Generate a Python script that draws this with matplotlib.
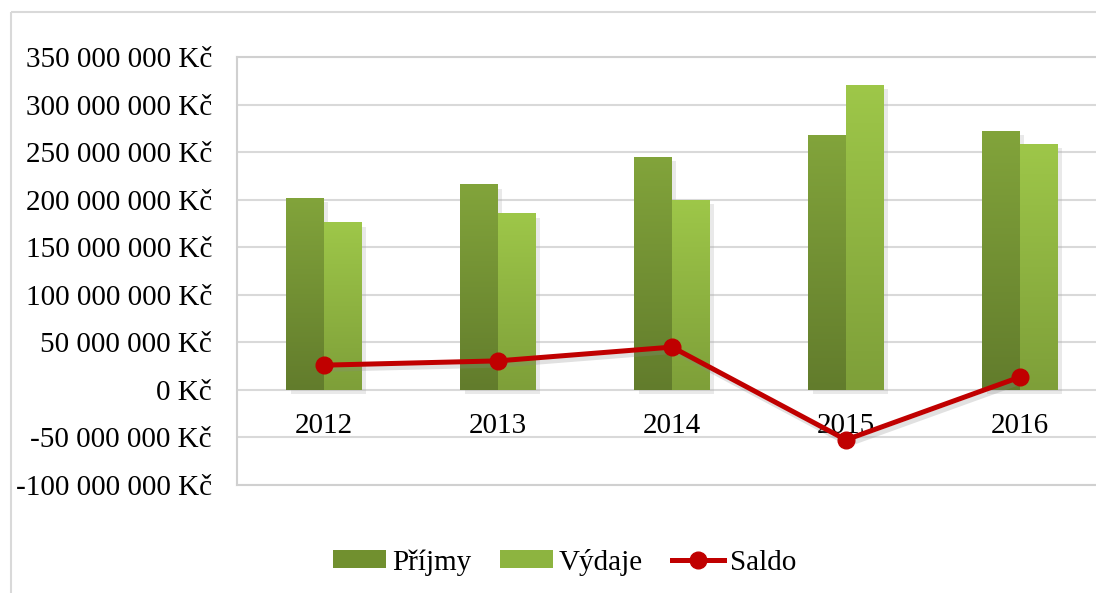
import matplotlib
matplotlib.use("Agg")
import matplotlib.pyplot as plt
import numpy as np
from matplotlib.patches import Patch
from matplotlib.lines import Line2D
from matplotlib.colors import LinearSegmentedColormap
import matplotlib.patheffects as pe
import matplotlib.transforms as mtrans
from matplotlib.ticker import FuncFormatter

years = ["2012", "2013", "2014", "2015", "2016"]
prijmy = [202e6, 216e6, 245e6, 268.5e6, 272.5e6]
vydaje = [176e6, 185.5e6, 200e6, 321e6, 259e6]
saldo = [26e6, 30.5e6, 45e6, -52.5e6, 13.5e6]
series_names = ["Příjmy", "Výdaje", "Saldo"]

plt.rcParams['font.family'] = ['Liberation Serif', 'DejaVu Serif']

W, H = 1096, 593
fig = plt.figure(figsize=(W / 100, H / 100), dpi=100)

# outer chart border (top and left edges; the rest lies outside the picture)
bx, by = 10.5 / W, 1 - 12 / H
fig.add_artist(Line2D([bx, 1.2], [by, by], transform=fig.transFigure,
                      color="#D9D9D9", linewidth=1.5, zorder=0, solid_capstyle='butt'))
fig.add_artist(Line2D([bx, bx], [-0.2, by], transform=fig.transFigure,
                      color="#D9D9D9", linewidth=1.5, zorder=0, solid_capstyle='butt'))

left, right = 237 / W, 1107 / W
bottom, top = 1 - 485 / H, 1 - 57 / H
ax = fig.add_axes([left, bottom, right - left, top - bottom])

n = len(years)
x = np.arange(n)
w = 0.216

ax.set_yticks(np.arange(-100e6, 350e6 + 1, 50e6))
def fmt(v, pos):
    s = f"{int(round(v)):,}".replace(",", " ")
    return s + " Kč"
ax.yaxis.set_major_formatter(FuncFormatter(fmt))
ax.tick_params(axis='y', length=0, pad=18, labelsize=21)
ax.set_xticks([])
ax.grid(axis='y', color="#D9D9D9", linewidth=1.5, zorder=0)
ax.set_axisbelow(True)
for s in ['left', 'top', 'bottom']:
    ax.spines[s].set_color("#D0D0D0")
    ax.spines[s].set_linewidth(1.5)
ax.spines['right'].set_visible(False)

c_prijmy = ("#82A43B", "#627C2C")
c_vydaje = ("#9EC749", "#7E9F39")

def gradient_bars(container, ctop, cbot):
    cmap = LinearSegmentedColormap.from_list("g", [cbot, ctop])
    grad = np.linspace(0, 1, 256).reshape(-1, 1)
    for p in container.patches:
        x0, y0 = p.get_x(), p.get_y()
        bw, bh = p.get_width(), p.get_height()
        im = ax.imshow(grad, cmap=cmap, origin='lower', aspect='auto',
                       extent=[x0, x0 + bw, y0, y0 + bh], zorder=2)
        im.set_clip_path(p)

shadow = [pe.SimplePatchShadow(offset=(3, -3), shadow_rgbFace="#AAAAAA", alpha=0.25), pe.Normal()]
b1 = ax.bar(x - w / 2, prijmy, w, color=c_prijmy[0], zorder=2, path_effects=shadow)
b2 = ax.bar(x + w / 2, vydaje, w, color=c_vydaje[0], zorder=2, path_effects=shadow)
gradient_bars(b1, *c_prijmy)
gradient_bars(b2, *c_vydaje)
ax.set_xlim(-0.5, n - 0.5)
ax.set_ylim(-100e6, 350e6)

# line shadow then line with markers
ax.plot(x, saldo, color="#C00000", linewidth=3.6, solid_capstyle='round', zorder=4,
        path_effects=[pe.SimpleLineShadow(offset=(2, -3), shadow_color="#888888", alpha=0.25), pe.Normal()])
ax.plot(x, saldo, color="#C00000", linestyle='none', marker='o', markersize=12, zorder=5)

# category labels at the zero line
trans = mtrans.offset_copy(ax.transData, fig=fig, x=0, y=-36, units='dots')
for xi, lab in zip(x, years):
    ax.text(xi, 0, lab, transform=trans, ha='center', va='center', fontsize=21, zorder=3)

handles = [Patch(facecolor="#71902F", edgecolor='none'),
           Patch(facecolor="#8DB440", edgecolor='none'),
           Line2D([0], [0], color="#C00000", linewidth=3.6, marker='o', markersize=12)]
fig.legend(handles, series_names, loc='center', bbox_to_anchor=(565 / W, 1 - 562 / H),
           ncol=3, frameon=False, fontsize=21, handlelength=1.8, handleheight=0.6,
           handletextpad=0.2, columnspacing=1.0)

fig.savefig("out.png", dpi=100)
